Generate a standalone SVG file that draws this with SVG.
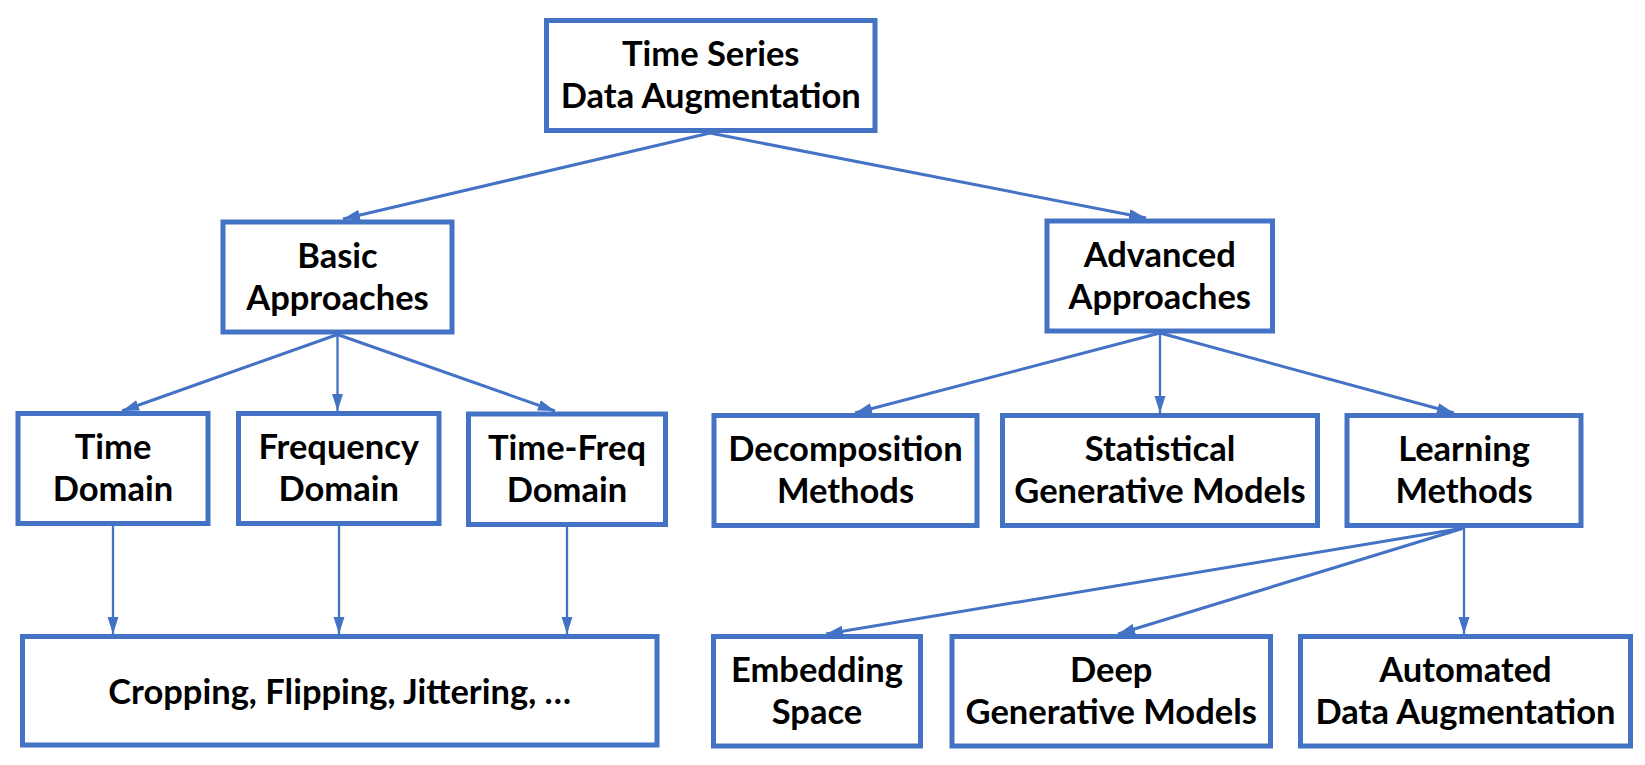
<svg xmlns="http://www.w3.org/2000/svg" width="1645" height="765" viewBox="0 0 1645 765">
<style>
.box{fill:#fff;stroke:#4472C4;stroke-width:5}
.t{font-family:Lato,"Liberation Sans",sans-serif;font-weight:bold;font-size:34.5px;fill:#000;text-anchor:middle}
.c{fill:none;stroke:#4472C4;stroke-width:3}
.v{stroke-width:2.3}
</style>
<defs>
<marker id="ah" markerUnits="userSpaceOnUse" markerWidth="18" markerHeight="12" refX="17" refY="5.5" orient="auto">
<path d="M0,0 L17,5.5 L0,11 z" fill="#4472C4"/>
</marker>
</defs>
<rect width="1645" height="765" fill="#fff"/>
<g id="connectors">
<line class="c" x1="710" y1="133" x2="343" y2="219" marker-end="url(#ah)"/>
<line class="c" x1="710" y1="133" x2="1146" y2="218" marker-end="url(#ah)"/>
<line class="c" x1="337.5" y1="334.5" x2="122" y2="411" marker-end="url(#ah)"/>
<line class="c v" x1="337.5" y1="334.5" x2="337.5" y2="411" marker-end="url(#ah)"/>
<line class="c" x1="337.5" y1="334.5" x2="555" y2="411" marker-end="url(#ah)"/>
<line class="c" x1="1160" y1="333" x2="855" y2="413" marker-end="url(#ah)"/>
<line class="c v" x1="1160" y1="333" x2="1160" y2="413" marker-end="url(#ah)"/>
<line class="c" x1="1160" y1="333" x2="1454" y2="413" marker-end="url(#ah)"/>
<line class="c v" x1="113" y1="525.5" x2="113" y2="634" marker-end="url(#ah)"/>
<line class="c v" x1="339" y1="525.5" x2="339" y2="634" marker-end="url(#ah)"/>
<line class="c v" x1="567" y1="527" x2="567" y2="634" marker-end="url(#ah)"/>
<line class="c" x1="1464" y1="528" x2="826" y2="634" marker-end="url(#ah)"/>
<line class="c" x1="1464" y1="528" x2="1118" y2="634" marker-end="url(#ah)"/>
<line class="c v" x1="1464" y1="528" x2="1464" y2="634" marker-end="url(#ah)"/>
</g>
<g id="root">
<rect class="box" x="546.5" y="20.5" width="328.5" height="110"/>
<text class="t" x="710.75" y="66">Time Series</text>
<text class="t" x="710.75" y="108">Data Augmentation</text>
</g>
<g id="basic">
<rect class="box" x="223" y="222" width="229" height="110"/>
<text class="t" x="337.5" y="267.5">Basic</text>
<text class="t" x="337.5" y="309.5">Approaches</text>
</g>
<g id="advanced">
<rect class="box" x="1047" y="221" width="225.5" height="110"/>
<text class="t" x="1159.75" y="266.5">Advanced</text>
<text class="t" x="1159.75" y="308.5">Approaches</text>
</g>
<g id="time">
<rect class="box" x="18" y="413.5" width="190" height="110"/>
<text class="t" x="113" y="459">Time</text>
<text class="t" x="113" y="501">Domain</text>
</g>
<g id="freq">
<rect class="box" x="238.5" y="413.5" width="200.5" height="110"/>
<text class="t" x="338.75" y="459">Frequency</text>
<text class="t" x="338.75" y="501">Domain</text>
</g>
<g id="timefreq">
<rect class="box" x="468.5" y="414" width="197" height="110.5"/>
<text class="t" x="567" y="459.5">Time-Freq</text>
<text class="t" x="567" y="501.5">Domain</text>
</g>
<g id="decomp">
<rect class="box" x="714" y="415.5" width="263" height="110"/>
<text class="t" x="845.5" y="461">Decomposition</text>
<text class="t" x="845.5" y="503">Methods</text>
</g>
<g id="statistical">
<rect class="box" x="1002.5" y="415.5" width="315" height="110"/>
<text class="t" x="1160" y="461">Statistical</text>
<text class="t" x="1160" y="503">Generative Models</text>
</g>
<g id="learning">
<rect class="box" x="1347" y="415.5" width="234" height="110"/>
<text class="t" x="1464" y="461">Learning</text>
<text class="t" x="1464" y="503">Methods</text>
</g>
<g id="cropping">
<rect class="box" x="22.5" y="636.5" width="634.5" height="108.5"/>
<text class="t" x="339.75" y="704">Cropping, Flipping, Jittering, …</text>
</g>
<g id="embedding">
<rect class="box" x="713.5" y="636.5" width="207" height="109.5"/>
<text class="t" x="817" y="681.5">Embedding</text>
<text class="t" x="817" y="723.5">Space</text>
</g>
<g id="deep">
<rect class="box" x="952" y="636.5" width="318.5" height="109.5"/>
<text class="t" x="1111.25" y="681.5">Deep</text>
<text class="t" x="1111.25" y="723.5">Generative Models</text>
</g>
<g id="automated">
<rect class="box" x="1300.5" y="636.5" width="330" height="109.5"/>
<text class="t" x="1465.5" y="681.5">Automated</text>
<text class="t" x="1465.5" y="723.5">Data Augmentation</text>
</g>
</svg>
